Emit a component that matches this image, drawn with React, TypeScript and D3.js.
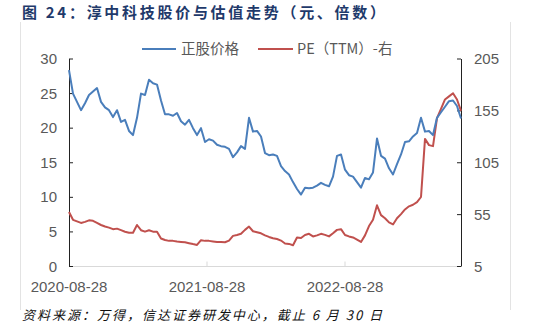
import * as d3 from 'd3';

const W = 541;
const H = 324;

// x axis: one sample every few trading days, labels sit on sample index
const xTickLabels = ['2020-08-28', '2021-08-28', '2022-08-28'];
const xTickIdx = [0, 34.5, 69];

const leftTicks = [0, 5, 10, 15, 20, 25, 30];
const rightTicks = [5, 55, 105, 155, 205];

// 正股价格 (元), left axis
const priceSeries = [
  28.4, 25.0, 23.8, 22.6, 23.6, 24.8, 25.3, 25.8, 23.8, 23.0,
  22.6, 21.6, 22.6, 20.9, 21.2, 19.6, 19.0, 21.5, 25.0, 24.8,
  27.0, 26.5, 26.3, 24.0, 22.0, 22.0, 21.8, 22.2, 21.0, 20.5,
  21.2, 20.0, 19.0, 20.0, 18.0, 18.4, 18.2, 17.6, 17.4, 17.3,
  17.0, 15.8, 16.5, 17.4, 17.0, 21.5, 19.5, 19.6, 18.8, 16.4,
  16.1, 16.2, 16.0, 14.5, 13.8, 13.3, 12.2, 11.2, 10.4, 11.4,
  11.3, 11.4, 11.7, 12.1, 11.8, 11.6, 13.0, 16.0, 16.2, 14.0,
  13.2, 13.0, 12.2, 11.4, 12.8, 12.6, 13.6, 18.5, 16.0, 15.6,
  14.2, 13.3, 14.8, 16.2, 18.0, 18.1, 18.8, 19.3, 21.5, 19.5,
  19.6, 19.0, 21.5, 22.3, 23.1, 23.9, 24.0, 23.2, 21.4,
];

// PE (TTM), right axis
const peSeries = [
  57.6, 50.0, 48.5, 47.0, 48.0, 49.5, 49.0, 47.0, 45.0, 43.5,
  42.5, 41.0, 41.5, 40.0, 38.5, 37.5, 37.5, 45.0, 40.0, 38.6,
  40.0, 38.6, 38.6, 32.0, 30.5, 29.7, 29.7, 29.0, 28.7, 28.3,
  27.5, 26.6, 25.8, 30.4, 29.7, 29.7, 29.2, 28.7, 28.7, 28.4,
  30.0, 34.5, 35.4, 36.5, 40.3, 43.5, 39.0, 38.0, 37.0, 35.0,
  33.5, 32.3, 31.5, 30.0, 27.2, 26.8, 25.5, 33.0, 32.5, 35.4,
  36.5, 34.0, 35.0, 36.5, 35.5, 34.0, 37.0, 40.3, 41.0, 35.4,
  34.0, 33.0, 31.0, 28.7, 35.0, 44.0, 50.0, 64.0, 54.5, 51.5,
  47.5, 45.5, 51.5, 55.5, 60.0, 63.0, 64.5, 67.0, 72.0, 128.0,
  122.0, 121.0, 148.0, 157.0, 166.0, 169.0, 172.0, 166.0, 155.0,
];

const BLUE = '#4A7EBB';
const RED = '#C0504D';
const TEXT = '#595959';
const NUM_FONT = '"Liberation Sans", Arial, sans-serif';
const CJK_FONT = '"Noto Sans CJK SC", "Liberation Sans", sans-serif';

export default function App() {
  const left = 69;
  const right = 461;
  const top = 59;
  const bottom = 266.5;

  const x = d3.scaleLinear().domain([0, priceSeries.length - 1]).range([left, right]);
  const yL = d3.scaleLinear().domain([0, 30]).range([bottom, top]);
  const yR = d3.scaleLinear().domain([5, 205]).range([bottom, top]);

  const priceLine = d3
    .line<number>()
    .x((_, i) => x(i))
    .y((d) => yL(d));
  const peLine = d3
    .line<number>()
    .x((_, i) => x(i))
    .y((d) => yR(d));

  return (
    <svg
      width={W}
      height={H}
      style={{ position: 'absolute', left: 0, top: 0, background: '#fff' }}
    >
      {/* title */}
      <text
        x={22}
        y={18}
        fill="#1F3A6B"
        fontFamily={CJK_FONT}
        fontWeight="bold"
        fontSize={15}
        textLength={363}
        lengthAdjust="spacing"
      >
        图 24：淳中科技股价与估值走势（元、倍数）
      </text>

      {/* frame */}
      <line x1={20.5} x2={20.5} y1={22} y2={310} stroke="#e3e3e3" />
      <line x1={510.5} x2={510.5} y1={22} y2={310} stroke="#e3e3e3" />

      {/* legend */}
      <line x1={142} x2={176} y1={49} y2={49} stroke={BLUE} strokeWidth={2} />
      <text x={181} y={54} fill={TEXT} fontFamily={CJK_FONT} fontSize={14.5}>
        正股价格
      </text>
      <line x1={258} x2={293} y1={49} y2={49} stroke={RED} strokeWidth={2} />
      <text x={297} y={54} fill={TEXT} fontFamily={CJK_FONT} fontSize={14.5}>
        PE（TTM）-右
      </text>

      {/* bottom axis */}
      <line x1={left} x2={right} y1={bottom} y2={bottom} stroke="#d9d9d9" strokeWidth={1} />
      {xTickIdx.map((t, i) => (
        <g key={xTickLabels[i]}>
          {i > 0 && (
            <line x1={x(t)} x2={x(t)} y1={bottom} y2={bottom - 5} stroke="#d9d9d9" />
          )}
          <text
            x={x(t)}
            y={292}
            textAnchor="middle"
            fill={TEXT}
            fontFamily={NUM_FONT}
            fontSize={15}
          >
            {xTickLabels[i]}
          </text>
        </g>
      ))}

      {/* left axis */}
      <line x1={left + 0.5} x2={left + 0.5} y1={top} y2={bottom} stroke="#222" />
      {leftTicks.map((t) => (
        <g key={'l' + t}>
          <line x1={left} x2={left + 4} y1={yL(t)} y2={yL(t)} stroke="#222" />
          <text
            x={57}
            y={yL(t) + 5}
            textAnchor="end"
            fill={TEXT}
            fontFamily={NUM_FONT}
            fontSize={15}
          >
            {t}
          </text>
        </g>
      ))}

      {/* right axis */}
      <line x1={right + 0.5} x2={right + 0.5} y1={top} y2={bottom} stroke="#222" />
      {rightTicks.map((t) => (
        <g key={'r' + t}>
          <line x1={right - 4} x2={right} y1={yR(t)} y2={yR(t)} stroke="#222" />
          <text
            x={474}
            y={yR(t) + 5}
            textAnchor="start"
            fill={TEXT}
            fontFamily={NUM_FONT}
            fontSize={15}
          >
            {t}
          </text>
        </g>
      ))}

      {/* series */}
      <path
        d={peLine(peSeries) ?? ''}
        fill="none"
        stroke={RED}
        strokeWidth={2}
        strokeLinejoin="round"
      />
      <path
        d={priceLine(priceSeries) ?? ''}
        fill="none"
        stroke={BLUE}
        strokeWidth={2}
        strokeLinejoin="round"
      />

      {/* source */}
      <text
        x={22}
        y={320}
        fill="#111"
        fontFamily={CJK_FONT}
        fontStyle="italic"
        fontSize={13}
        textLength={360}
        lengthAdjust="spacing"
      >
        资料来源：万得，信达证券研发中心，截止 6 月 30 日
      </text>
    </svg>
  );
}
